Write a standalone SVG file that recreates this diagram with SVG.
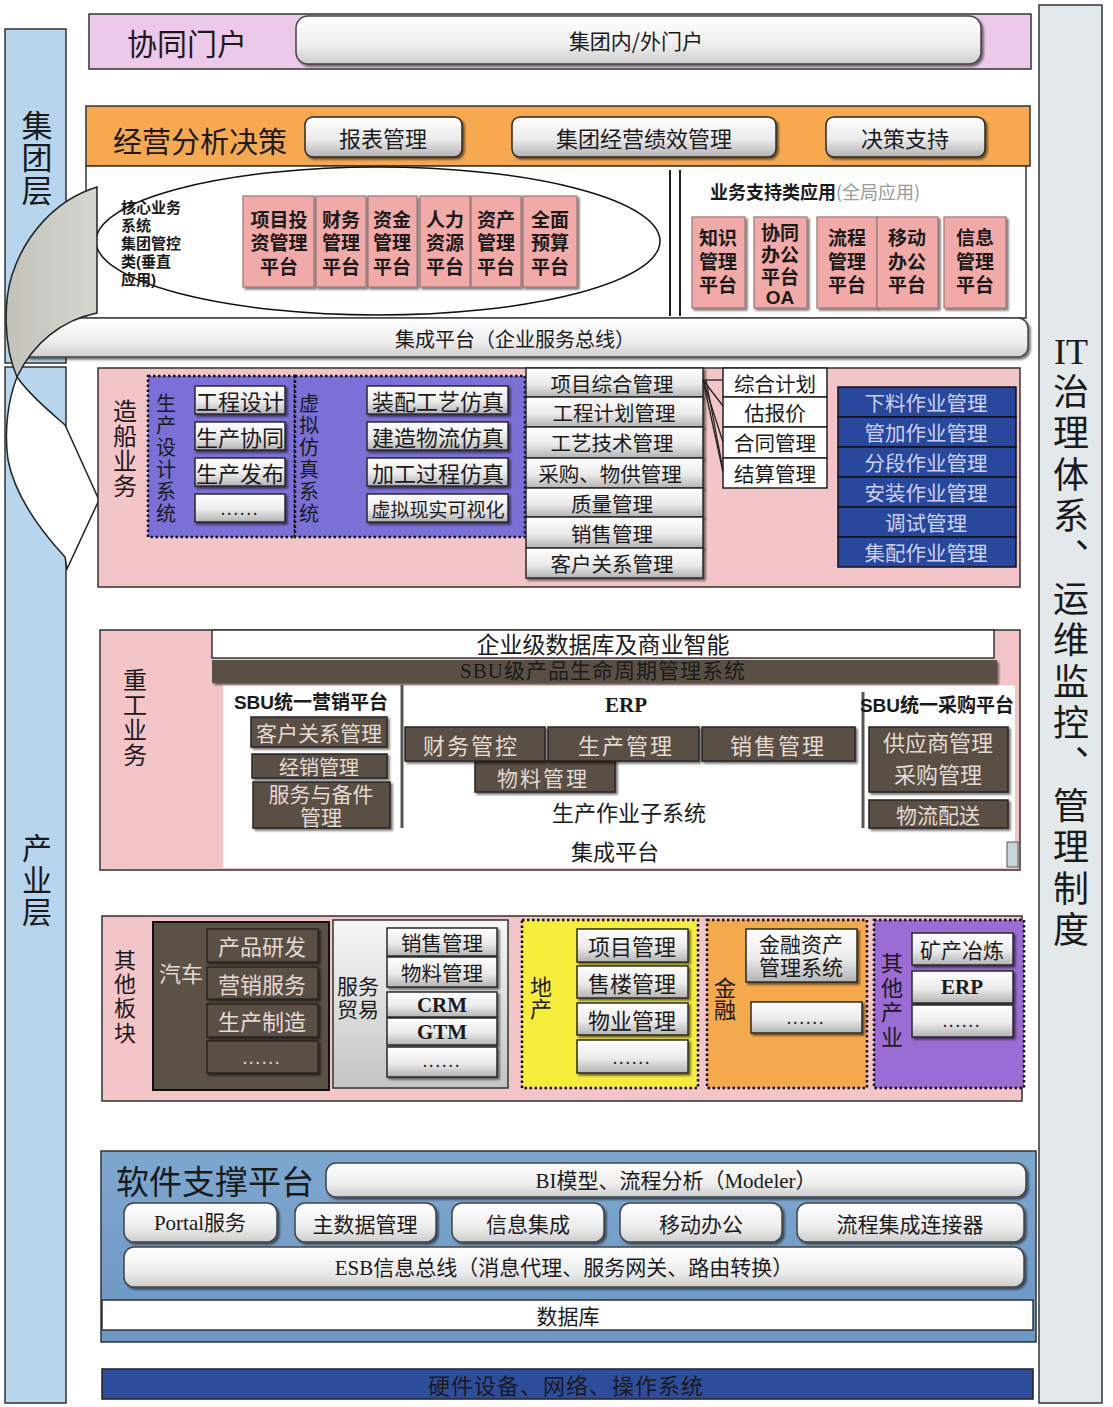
<svg xmlns="http://www.w3.org/2000/svg" width="1113" height="1407" viewBox="0 0 1113 1407">
<defs>
<linearGradient id="gBtn" x1="0" y1="0" x2="0" y2="1"><stop offset="0" stop-color="#ffffff"/><stop offset="0.55" stop-color="#ebebeb"/><stop offset="1" stop-color="#b3b3b3"/></linearGradient>
<linearGradient id="gBar" x1="0" y1="0" x2="0" y2="1"><stop offset="0" stop-color="#ffffff"/><stop offset="0.6" stop-color="#eeeeee"/><stop offset="1" stop-color="#cdcdcd"/></linearGradient>
<linearGradient id="gSvc" x1="0" y1="0" x2="0" y2="1"><stop offset="0" stop-color="#f7f7f7"/><stop offset="1" stop-color="#c4c4c4"/></linearGradient>
<linearGradient id="gSoft" x1="0" y1="0" x2="0" y2="1"><stop offset="0" stop-color="#7ea7d0"/><stop offset="1" stop-color="#6c97c4"/></linearGradient>
<linearGradient id="gArrow" x1="0" y1="0" x2="1" y2="0"><stop offset="0" stop-color="#c2c2bb"/><stop offset="1" stop-color="#d6d6d0"/></linearGradient>
<filter id="sh" x="-10%" y="-20%" width="130%" height="160%"><feDropShadow dx="2" dy="2" stdDeviation="1" flood-color="#000" flood-opacity="0.55"/></filter>
</defs>
<style>
text { font-family: "Noto Sans CJK SC", sans-serif; fill: #1a1a1a; }
.c { text-anchor: middle; dominant-baseline: central; }
.v { writing-mode: vertical-rl; text-anchor: middle; }
.m { font-family: "Liberation Sans", "Noto Sans CJK SC", sans-serif; }
.serif { font-family: "Liberation Serif", "Noto Sans CJK SC", serif; }
.b { font-weight: bold; }
.btn { fill: url(#gBtn); stroke: #2a2a2a; stroke-width: 1.5; filter: url(#sh); }
.bar { fill: url(#gBar); stroke: #444; stroke-width: 1.5; filter: url(#sh); }
.dark { fill: #5a5044; stroke: #2a2420; stroke-width: 1.5; filter: url(#sh); }
.dt { fill: #e4dad3; }
.pk { fill: #f3c5c8; stroke: #333; stroke-width: 1.5; }
.core { fill: #f2aaa8; stroke: #9a7777; stroke-width: 1.2; filter: url(#sh); }
.dot { stroke: #111; stroke-width: 2.5; stroke-dasharray: 2.5 2.5; }
.blue { fill: #27489c; stroke: #111; stroke-width: 1.5; }
.bt { fill: #cdd0f3; }
.wb { fill: #ffffff; stroke: #222; stroke-width: 1.5; }
.col { fill: #b7d5ec; stroke: #333; stroke-width: 1.5; }
</style>

<g id="layer-industry">
<rect class="col" x="5" y="367" width="61" height="1036"/>
<text class="v" font-size="30" letter-spacing="2" x="37" y="881">产业层</text>
</g>
<g id="layer-group">
<rect class="col" x="5" y="29" width="61" height="334"/>
<text class="v" font-size="31" letter-spacing="1.5" x="37" y="158">集团层</text>
</g>

<g id="governance">
<rect x="1039" y="5" width="63" height="1398" fill="#e3e8eb" stroke="#333" stroke-width="1.5"/>
<text class="c serif" font-size="36" x="1071" y="352">IT</text>
<text class="v" font-size="36" letter-spacing="5.4" x="1071" y="663">治理体系、运维监控、管理制度</text>
</g>

<g id="portal">
<rect x="89" y="14" width="942" height="55" fill="#ecc8e9" stroke="#333" stroke-width="1.5"/>
<text class="c" font-size="30" x="187" y="42">协同门户</text>
<rect class="bar" x="296" y="16" width="685" height="48" rx="12"/>
<text class="c" font-size="21" x="636" y="40">集团内/外门户</text>
</g>

<g id="decision">
<rect x="86" y="106" width="944" height="60" fill="#f6a94e" stroke="#333" stroke-width="1.5"/>
<text class="c" font-size="29" x="200" y="140">经营分析决策</text>
<rect class="btn" x="305" y="117" width="157" height="40" rx="8"/>
<text class="c" font-size="22" x="383" y="137">报表管理</text>
<rect class="btn" x="512" y="117" width="264" height="40" rx="8"/>
<text class="c" font-size="22" x="644" y="137">集团经营绩效管理</text>
<rect class="btn" x="826" y="117" width="159" height="40" rx="8"/>
<text class="c" font-size="22" x="905" y="137">决策支持</text>
</g>

<g id="group-apps">
<rect x="86" y="166" width="940" height="152" fill="#ffffff" stroke="#333" stroke-width="1.5"/>
<line x1="670" y1="170" x2="670" y2="316" stroke="#222" stroke-width="2"/>
<line x1="680" y1="170" x2="680" y2="316" stroke="#222" stroke-width="2"/>
<ellipse cx="378" cy="241" rx="282" ry="74" fill="none" stroke="#111" stroke-width="1.5"/>
<text class="b m" font-size="15"><tspan x="121" y="213">核心业务</tspan><tspan x="121" y="231">系统</tspan><tspan x="121" y="249">集团管控</tspan><tspan x="121" y="267">类(垂直</tspan><tspan x="121" y="285">应用)</tspan></text>
<g id="core-boxes">
<rect class="core" x="243" y="196" width="71" height="91"/>
<rect class="core" x="316" y="196" width="50" height="91"/>
<rect class="core" x="368" y="196" width="49" height="91"/>
<rect class="core" x="420" y="196" width="50" height="91"/>
<rect class="core" x="471" y="196" width="50" height="91"/>
<rect class="core" x="523" y="196" width="54" height="91"/>
<text class="c b m" font-size="19"><tspan x="279" y="220">项目投</tspan><tspan x="279" y="243">资管理</tspan><tspan x="279" y="267">平台</tspan></text>
<text class="c b m" font-size="19"><tspan x="341" y="220">财务</tspan><tspan x="341" y="243">管理</tspan><tspan x="341" y="267">平台</tspan></text>
<text class="c b m" font-size="19"><tspan x="392" y="220">资金</tspan><tspan x="392" y="243">管理</tspan><tspan x="392" y="267">平台</tspan></text>
<text class="c b m" font-size="19"><tspan x="445" y="220">人力</tspan><tspan x="445" y="243">资源</tspan><tspan x="445" y="267">平台</tspan></text>
<text class="c b m" font-size="19"><tspan x="496" y="220">资产</tspan><tspan x="496" y="243">管理</tspan><tspan x="496" y="267">平台</tspan></text>
<text class="c b m" font-size="19"><tspan x="550" y="220">全面</tspan><tspan x="550" y="243">预算</tspan><tspan x="550" y="267">平台</tspan></text>
</g>
<text font-size="18" x="710" y="199"><tspan class="b">业务支持类应用</tspan><tspan fill="#9a9a9a">(全局应用)</tspan></text>
<g id="support-boxes">
<rect class="core" x="692" y="217" width="53" height="91"/>
<rect class="core" x="754" y="217" width="53" height="91"/>
<rect class="core" x="817" y="217" width="60" height="91"/>
<rect class="core" x="877" y="217" width="61" height="91"/>
<rect class="core" x="944" y="217" width="62" height="91"/>
<text class="c b m" font-size="19"><tspan x="718" y="238">知识</tspan><tspan x="718" y="262">管理</tspan><tspan x="718" y="285">平台</tspan></text>
<text class="c b m" font-size="19"><tspan x="780" y="233">协同</tspan><tspan x="780" y="255">办公</tspan><tspan x="780" y="277">平台</tspan><tspan x="780" y="297">OA</tspan></text>
<text class="c b m" font-size="19"><tspan x="847" y="238">流程</tspan><tspan x="847" y="262">管理</tspan><tspan x="847" y="285">平台</tspan></text>
<text class="c b m" font-size="19"><tspan x="907" y="238">移动</tspan><tspan x="907" y="262">办公</tspan><tspan x="907" y="285">平台</tspan></text>
<text class="c b m" font-size="19"><tspan x="975" y="238">信息</tspan><tspan x="975" y="262">管理</tspan><tspan x="975" y="285">平台</tspan></text>
</g>
</g>

<g id="esb-group">
<rect class="bar" x="20" y="318" width="1008" height="39" rx="10"/>
<text class="c" font-size="20" x="515" y="338">集成平台（企业服务总线）</text>
</g>

<g id="curved-arrow">
<path d="M97,187 L97,313 C62,320 33,343 17,377 C3,345 4,300 12,275 C25,235 55,200 97,187 Z" fill="url(#gArrow)" stroke="#222" stroke-width="1.5"/>
<path d="M17,377 C30,395 48,410 65,425 L99,500 L67,569 L65,557 C40,530 15,495 8,460 C4,430 8,400 17,377 Z" fill="#ffffff" stroke="#222" stroke-width="1.5"/>
</g>

<g id="shipbuilding">
<rect class="pk" x="98" y="368" width="922" height="219"/>
<text class="v" font-size="24" letter-spacing="1" x="125" y="449">造船业务</text>
<g id="ship-design">
<rect class="dot" x="148" y="376" width="147" height="161" fill="#7a70d8"/>
<text class="v" font-size="20" letter-spacing="2" x="166" y="459">生产设计系统</text>
<rect class="btn" x="195" y="386" width="90" height="28"/>
<rect class="btn" x="195" y="422" width="90" height="28"/>
<rect class="btn" x="195" y="458" width="90" height="28"/>
<rect class="btn" x="195" y="494" width="90" height="28"/>
<text class="c" font-size="22" x="240" y="400">工程设计</text>
<text class="c" font-size="22" x="240" y="436">生产协同</text>
<text class="c" font-size="22" x="240" y="472">生产发布</text>
<text class="c" font-size="16" x="240" y="508" letter-spacing="2">......</text>
</g>
<g id="ship-sim">
<rect class="dot" x="295" y="376" width="230" height="161" fill="#7a70d8"/>
<text class="v" font-size="20" letter-spacing="2" x="309" y="459">虚拟仿真系统</text>
<rect class="btn" x="367" y="386" width="141" height="28"/>
<rect class="btn" x="367" y="422" width="141" height="28"/>
<rect class="btn" x="367" y="458" width="141" height="28"/>
<rect class="btn" x="367" y="494" width="141" height="28"/>
<text class="c" font-size="22" x="438" y="400">装配工艺仿真</text>
<text class="c" font-size="22" x="438" y="436">建造物流仿真</text>
<text class="c" font-size="22" x="438" y="472">加工过程仿真</text>
<text class="c" font-size="19" x="438" y="508">虚拟现实可视化</text>
</g>
<g id="ship-mgmt">
<rect class="btn" x="526" y="368" width="177" height="29"/>
<rect class="btn" x="526" y="397" width="177" height="30"/>
<rect class="btn" x="526" y="427" width="177" height="31"/>
<rect class="btn" x="526" y="458" width="177" height="30"/>
<rect class="btn" x="526" y="488" width="177" height="29"/>
<rect class="btn" x="526" y="517" width="177" height="31"/>
<rect class="btn" x="526" y="548" width="177" height="30"/>
<text class="c" font-size="20.5" x="612" y="383">项目综合管理</text>
<text class="c" font-size="20.5" x="614" y="412">工程计划管理</text>
<text class="c" font-size="20.5" x="612" y="442">工艺技术管理</text>
<text class="c" font-size="20.5" x="610" y="473">采购、物供管理</text>
<text class="c" font-size="20.5" x="612" y="503">质量管理</text>
<text class="c" font-size="20.5" x="612" y="533">销售管理</text>
<text class="c" font-size="20.5" x="612" y="563">客户关系管理</text>
</g>
<g id="ship-project">
<rect class="wb" x="723" y="368" width="104" height="29"/>
<rect class="wb" x="723" y="397" width="104" height="30"/>
<rect class="wb" x="723" y="427" width="104" height="31"/>
<rect class="wb" x="723" y="458" width="104" height="30"/>
<text class="c" font-size="20.5" x="775" y="383">综合计划</text>
<text class="c" font-size="20.5" x="775" y="412">估报价</text>
<text class="c" font-size="20.5" x="775" y="442">合同管理</text>
<text class="c" font-size="20.5" x="775" y="473">结算管理</text>
</g>
<g id="ship-ops">
<rect class="blue" x="838" y="387" width="178" height="30"/>
<rect class="blue" x="838" y="417" width="178" height="30"/>
<rect class="blue" x="838" y="447" width="178" height="30"/>
<rect class="blue" x="838" y="477" width="178" height="30"/>
<rect class="blue" x="838" y="507" width="178" height="30"/>
<rect class="blue" x="838" y="537" width="178" height="30"/>
<text class="c bt" font-size="20.5" x="926" y="402">下料作业管理</text>
<text class="c bt" font-size="20.5" x="926" y="432">管加作业管理</text>
<text class="c bt" font-size="20.5" x="926" y="462">分段作业管理</text>
<text class="c bt" font-size="20.5" x="926" y="492">安装作业管理</text>
<text class="c bt" font-size="20.5" x="926" y="522">调试管理</text>
<text class="c bt" font-size="20.5" x="926" y="552">集配作业管理</text>
</g>
</g>

<g id="connectors" stroke="#222" stroke-width="1.3" fill="none">
<line x1="703" y1="380" x2="723" y2="380"/>
<line x1="703" y1="380" x2="723" y2="406"/>
<line x1="703" y1="380" x2="723" y2="442"/>
<line x1="703" y1="380" x2="723" y2="472"/>
<line x1="706" y1="380" x2="723" y2="470"/>
</g>

<g id="heavy-industry">
<rect class="pk" x="100" y="630" width="920" height="240"/>
<text class="v" font-size="24" letter-spacing="1" x="135" y="718">重工业务</text>
<rect x="223" y="685" width="792" height="183" fill="#ffffff"/>
<rect x="1007" y="842" width="11" height="25" fill="#c9d4dc" stroke="#555" stroke-width="1"/>
<rect x="212" y="630" width="782" height="28" fill="#ffffff" stroke="#333" stroke-width="1.5"/>
<text class="c serif" font-size="23" x="603" y="645">企业级数据库及商业智能</text>
<rect x="212" y="660" width="785" height="23" fill="#5a5044" filter="url(#sh)"/>
<text class="c serif" font-size="21" x="603" y="671" fill="#e0d2d0" letter-spacing="1">SBU级产品生命周期管理系统</text>
<line x1="402" y1="685" x2="402" y2="828" stroke="#555" stroke-width="3"/>
<line x1="863" y1="692" x2="863" y2="828" stroke="#555" stroke-width="3"/>
<g id="sbu-marketing">
<text class="c b m" font-size="19" x="311" y="702">SBU统一营销平台</text>
<rect class="dark" x="251" y="717" width="136" height="30"/>
<rect class="dark" x="252" y="754" width="135" height="24"/>
<rect class="dark" x="253" y="782" width="137" height="46"/>
<text class="c dt" font-size="21" x="319" y="732">客户关系管理</text>
<text class="c dt" font-size="20" x="319" y="766">经销管理</text>
<text class="c dt m" font-size="21"><tspan x="321" y="794">服务与备件</tspan><tspan x="321" y="817">管理</tspan></text>
</g>
<g id="erp">
<text class="c serif b" font-size="21" x="626" y="705">ERP</text>
<rect class="dark" x="475" y="761" width="140" height="31"/>
<rect class="dark" x="405" y="727" width="140" height="34"/>
<rect class="dark" x="548" y="727" width="151" height="34"/>
<rect class="dark" x="702" y="727" width="153" height="34"/>
<text class="c dt" font-size="22" x="471" y="744" letter-spacing="2">财务管控</text>
<text class="c dt" font-size="22" x="626" y="744" letter-spacing="2">生产管理</text>
<text class="c dt" font-size="22" x="778" y="744" letter-spacing="2">销售管理</text>
<text class="c dt" font-size="21" x="543" y="777" letter-spacing="2">物料管理</text>
<text class="c" font-size="22" x="629" y="811">生产作业子系统</text>
<text class="c" font-size="22" x="615" y="850" fill="#8a8a8a">集成平台</text>
</g>
<g id="sbu-procurement">
<text class="c b m" font-size="19" x="937" y="705">SBU统一采购平台</text>
<rect class="dark" x="869" y="727" width="139" height="65"/>
<rect class="dark" x="869" y="800" width="139" height="28"/>
<text class="c dt m" font-size="22"><tspan x="938" y="743">供应商管理</tspan><tspan x="938" y="775">采购管理</tspan></text>
<text class="c dt" font-size="21" x="938" y="814">物流配送</text>
</g>
</g>

<g id="other-sectors">
<rect class="pk" x="102" y="916" width="920" height="185"/>
<text class="v" font-size="22" letter-spacing="2.3" x="125" y="997">其他板块</text>
<g id="auto">
<rect x="153" y="922" width="176" height="168" fill="#5b5145" stroke="#111" stroke-width="2"/>
<text class="c dt" font-size="22" x="181" y="972">汽车</text>
<rect class="dark" x="207" y="929" width="111" height="33"/>
<rect class="dark" x="207" y="967" width="111" height="32"/>
<rect class="dark" x="207" y="1004" width="111" height="33"/>
<rect class="dark" x="207" y="1041" width="111" height="32"/>
<text class="c dt" font-size="22" x="262" y="945">产品研发</text>
<text class="c dt" font-size="22" x="262" y="983">营销服务</text>
<text class="c dt" font-size="22" x="262" y="1020">生产制造</text>
<text class="c dt" font-size="16" x="262" y="1057" letter-spacing="2">......</text>
</g>
<g id="trade">
<rect x="333" y="920" width="175" height="168" fill="url(#gSvc)" stroke="#333" stroke-width="1.5"/>
<text class="c m" font-size="21"><tspan x="358" y="986">服务</tspan><tspan x="358" y="1009">贸易</tspan></text>
<rect class="btn" x="387" y="928" width="110" height="28"/>
<rect class="btn" x="387" y="957" width="110" height="30"/>
<rect class="btn" x="387" y="992" width="110" height="25"/>
<rect class="btn" x="387" y="1018" width="110" height="27"/>
<rect class="btn" x="387" y="1047" width="110" height="30"/>
<text class="c" font-size="20.5" x="442" y="942">销售管理</text>
<text class="c" font-size="20.5" x="442" y="972">物料管理</text>
<text class="c serif b" font-size="21" x="442" y="1005">CRM</text>
<text class="c serif b" font-size="21" x="442" y="1032">GTM</text>
<text class="c" font-size="16" x="442" y="1060" letter-spacing="2">......</text>
</g>
<g id="real-estate">
<rect class="dot" x="522" y="920" width="176" height="168" fill="#f7ee3c"/>
<text class="v" font-size="22" letter-spacing="0" x="541" y="998">地产</text>
<rect class="btn" x="577" y="929" width="111" height="33"/>
<rect class="btn" x="577" y="966" width="111" height="32"/>
<rect class="btn" x="577" y="1003" width="111" height="32"/>
<rect class="btn" x="577" y="1040" width="111" height="33"/>
<text class="c" font-size="22" x="632" y="945">项目管理</text>
<text class="c" font-size="22" x="632" y="982">售楼管理</text>
<text class="c" font-size="22" x="632" y="1019">物业管理</text>
<text class="c" font-size="16" x="632" y="1057" letter-spacing="2">......</text>
</g>
<g id="finance">
<rect class="dot" x="707" y="920" width="160" height="168" fill="#f5a94d"/>
<text class="v" font-size="22" letter-spacing="0" x="725" y="999">金融</text>
<rect class="btn" x="746" y="929" width="111" height="53"/>
<rect class="btn" x="751" y="1002" width="111" height="31"/>
<text class="c m" font-size="21"><tspan x="801" y="944">金融资产</tspan><tspan x="801" y="967">管理系统</tspan></text>
<text class="c" font-size="16" x="806" y="1017" letter-spacing="2">......</text>
</g>
<g id="other-industry">
<rect class="dot" x="874" y="920" width="150" height="168" fill="#9b6cd3"/>
<text class="v" font-size="22" letter-spacing="2.7" x="892" y="1001">其他产业</text>
<rect class="btn" x="912" y="933" width="101" height="32"/>
<rect class="btn" x="912" y="971" width="101" height="32"/>
<rect class="btn" x="912" y="1005" width="101" height="32"/>
<text class="c" font-size="21" x="962" y="949">矿产冶炼</text>
<text class="c serif b" font-size="21" x="962" y="987">ERP</text>
<text class="c" font-size="16" x="962" y="1020" letter-spacing="2">......</text>
</g>
</g>

<g id="software-platform">
<rect x="101" y="1151" width="935" height="191" fill="url(#gSoft)" stroke="#333" stroke-width="1.5"/>
<text class="c" font-size="33" x="215" y="1180">软件支撑平台</text>
<rect class="bar" x="326" y="1163" width="700" height="34" rx="10"/>
<text class="c serif" font-size="21" x="676" y="1181">BI模型、流程分析（Modeler）</text>
<rect class="bar" x="124" y="1203" width="153" height="39" rx="10"/>
<rect class="bar" x="295" y="1203" width="141" height="39" rx="10"/>
<rect class="bar" x="452" y="1203" width="152" height="39" rx="10"/>
<rect class="bar" x="620" y="1203" width="162" height="39" rx="10"/>
<rect class="bar" x="797" y="1203" width="227" height="39" rx="10"/>
<text class="c serif" font-size="21" x="200" y="1223">Portal服务</text>
<text class="c" font-size="21" x="365" y="1223">主数据管理</text>
<text class="c" font-size="21" x="528" y="1223">信息集成</text>
<text class="c" font-size="21" x="701" y="1223">移动办公</text>
<text class="c" font-size="21" x="910" y="1223">流程集成连接器</text>
<rect class="bar" x="124" y="1247" width="900" height="40" rx="10"/>
<text class="c serif" font-size="21" x="564" y="1268">ESB信息总线（消息代理、服务网关、路由转换）</text>
<rect x="102" y="1300" width="931" height="30" fill="#ffffff" stroke="#333" stroke-width="1.5"/>
<text class="c" font-size="21" x="568" y="1315">数据库</text>
</g>

<g id="hardware">
<rect x="102" y="1369" width="931" height="30" fill="#2f4d9d" stroke="#222" stroke-width="1.5"/>
<text class="c" font-size="22" x="566" y="1384" fill="#111" letter-spacing="1">硬件设备、网络、操作系统</text>
</g>
</svg>
